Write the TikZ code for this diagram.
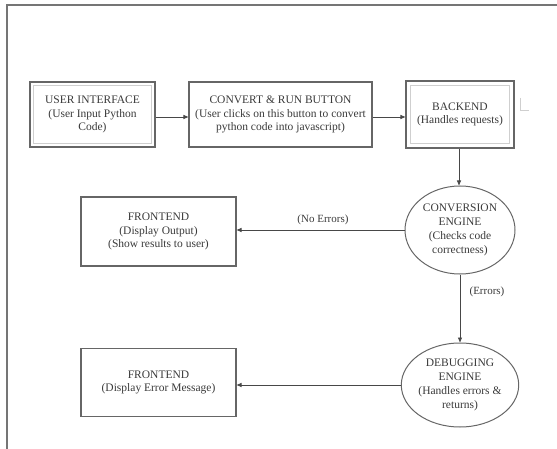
\documentclass[tikz,border=0pt]{standalone}
\usepackage{fontspec}
\setmainfont{Liberation Serif}
\usetikzlibrary{arrows.meta,shapes.geometric}
\definecolor{txt}{HTML}{3A3A3A}
\definecolor{edge}{HTML}{666666}
\definecolor{inner}{HTML}{CFCFCF}
\begin{document}
\begin{tikzpicture}[x=1pt,y=-1pt,
  every node/.style={font=\fontsize{11.5}{13.8}\selectfont, text=txt, align=center, inner sep=0pt},
  boxnode/.style={draw=edge, line width=1.1pt, rectangle},
  ovalnode/.style={draw=edge, line width=1pt, ellipse},
  innerline/.style={draw=inner, line width=0.9pt},
  flow/.style={draw=edge!70!black, line width=0.9pt, -{Triangle[length=5pt,width=4pt]}},
  lbl/.style={font=\fontsize{11}{13}\selectfont}]
\useasboundingbox (0,0) rectangle (557,449);
% page frame
\draw[edge!90, line width=1.5pt] (7,449) -- (7,5) -- (557,5);
\draw[inner, line width=0.8pt] (520,98) -- (520,110) -- (529,110);

\node[boxnode, minimum width=125pt, minimum height=65pt] (ui) at (92.5,114.5) {USER INTERFACE\\(User Input Python\\Code)};
\node[boxnode, minimum width=183pt, minimum height=65pt] (conv) at (280.5,114.5) {CONVERT \& RUN BUTTON\\(User clicks on this button to convert\\python code into javascript)};
\node[boxnode, minimum width=108pt, minimum height=67pt] (back) at (460,114.5) {BACKEND\\(Handles requests)};
\node[ovalnode, minimum width=110pt, minimum height=88pt] (ce) at (460,230) {CONVERSION\\ENGINE\\(Checks code\\correctness)};
\node[boxnode, minimum width=155pt, minimum height=69pt] (fe1) at (158.5,231.5) {FRONTEND\\(Display Output)\\(Show results to user)};
\node[ovalnode, minimum width=108pt, minimum height=84pt] (de) at (460,385) {DEBUGGING\\ENGINE\\(Handles errors \&\\returns)};
\node[boxnode, minimum width=155pt, minimum height=68pt] (fe2) at (158.5,382.5) {FRONTEND\\(Display Error Message)};

% inner double borders
\draw[innerline] ([shift={(4pt,-4pt)}]ui.north west) rectangle ([shift={(-4pt,4pt)}]ui.south east);
\draw[innerline] ([shift={(5pt,-5pt)}]back.north west) rectangle ([shift={(-5pt,5pt)}]back.south east);

% connectors
\draw[flow] ([yshift=-2.5pt]ui.east) -- ([yshift=-2.5pt]conv.west);
\draw[flow] ([yshift=-2.5pt]conv.east) -- ([yshift=-2.5pt]back.west);
\draw[flow] ([xshift=-1pt]back.south) -- ([xshift=-1pt]ce.north);
\draw[flow] (ce.west) -- (fe1.east |- ce.west);
\draw[flow] (ce.south) -- (de.north);
\draw[flow] (de.west) -- (fe2.east |- de.west);

\node[lbl] (noerr) at (323,220) {(No Errors)};
\node[lbl] (err) at (487,292) {(Errors)};
\end{tikzpicture}
\end{document}
